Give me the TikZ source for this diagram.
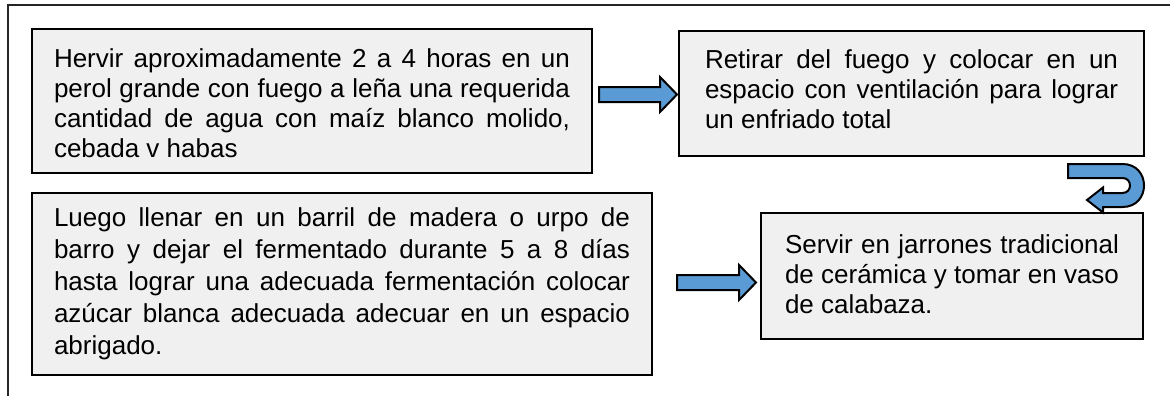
\documentclass[tikz,border=0pt]{standalone}
\usepackage{fontspec}
\setmainfont{Liberation Sans}
\usetikzlibrary{calc}
\definecolor{boxfill}{HTML}{F0F0F0}
\definecolor{arrowblue}{HTML}{5B9BD5}
\newcommand\myjl[1]{\hbox to \hsize{#1}}
\newcommand\mylast[1]{\hbox to \hsize{#1\hfil}}
\newcommand\mytext[4]{\vbox{\hsize=#1\relax\baselineskip=#3\relax #4\kern#2\relax}}
\newcommand\barrow[2]{%
  \draw[blockarrow] let \p1=(#1), \p2=(#2) in
    (\x1,\y1+7.5pt) -- (\x2-17pt,\y1+7.5pt) -- (\x2-17pt,\y1+17.5pt) -- (\x2,\y1)
    -- (\x2-17pt,\y1-17.5pt) -- (\x2-17pt,\y1-7.5pt) -- (\x1,\y1-7.5pt) -- cycle;}
\begin{document}
\begin{tikzpicture}[x=1pt,y=-1pt,
  stepbox/.style={draw=black, line width=2pt, fill=boxfill, rectangle, inner ysep=0pt,
    font=\fontsize{26}{30}\selectfont, text=black},
  blockarrow/.style={draw=black, line width=2pt, fill=arrowblue, line join=miter}]
\useasboundingbox (0,0) rectangle (1170,396);
% outer frame
\draw[line width=2pt, black!85] (8,396) -- (8,5) -- (1170,5);
% boxes
\node[stepbox, inner xsep=22pt, minimum width=560pt, minimum height=144pt] (b1) at (312,101)
 {\mytext{516pt}{-4pt}{30pt}{\myjl{Hervir aproximadamente 2 a 4 horas en un}\myjl{perol grande con fuego a leña una requerida}\myjl{cantidad de agua con maíz blanco molido,}\mylast{cebada v habas}}};
\node[stepbox, inner xsep=26pt, minimum width=465pt, minimum height=125pt] (b3) at (911.5,93.5)
 {\mytext{413pt}{8pt}{30pt}{\myjl{Retirar del fuego y colocar en un}\myjl{espacio con ventilación para lograr}\mylast{un enfriado total}}};
\node[stepbox, inner xsep=22pt, minimum width=620pt, minimum height=182pt] (b2) at (342,284)
 {\mytext{576pt}{0pt}{32pt}{\myjl{Luego llenar en un barril de madera o urpo de}\myjl{barro y dejar el fermentado durante 5 a 8 días}\myjl{hasta lograr una adecuada fermentación colocar}\myjl{azúcar blanca adecuada adecuar en un espacio}\mylast{abrigado.}}};
\node[stepbox, inner xsep=24pt, minimum width=382pt, minimum height=126pt] (b4) at (952,276)
 {\mytext{334pt}{4pt}{30pt}{\myjl{Servir en jarrones tradicional}\myjl{de cerámica y tomar en vaso}\mylast{de calabaza.}}};
% block arrows
\coordinate (a1s) at (599,94.5);
\coordinate (a1e) at (677,94.5);
\coordinate (a2s) at (677,282.5);
\coordinate (a2e) at (756,282.5);
\barrow{a1s}{a1e}
\barrow{a2s}{a2e}
% U-turn arrow
\draw[blockarrow] (1068,164) -- (1122.5,164)
  .. controls (1151.2,164) and (1151.2,207) .. (1122.5,207)
  -- (1103,207) -- (1103,212.5) -- (1087,200) -- (1103,187.5) -- (1103,193)
  -- (1122.5,193) .. controls (1132.5,193) and (1132.5,178) .. (1122.5,178)
  -- (1068,178) -- cycle;
\end{tikzpicture}
\end{document}
